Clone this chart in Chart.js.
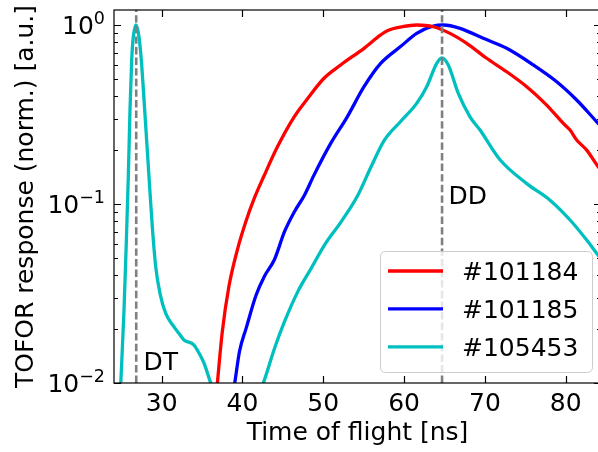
<!DOCTYPE html>
<html>
<head>
<meta charset="utf-8">
<title>TOFOR response</title>
<script src="https://cdn.jsdelivr.net/npm/chart.js@4/dist/chart.umd.min.js"></script>
<style>
  html, body { margin: 0; padding: 0; overflow: hidden; background: #fff; }
  canvas { display: block; }
</style>
</head>
<body>
<canvas id="tofor" width="601" height="452"></canvas>
<script>
// ---- data: normalised TOFOR response vs time of flight (ns) ----
const shotLabels = ['#101184', '#101185', '#105453'];
const shotColors = ['#ff0000', '#0000ff', '#00bfbf'];

const times101184 = [36.5, 36.88, 37.5, 38.33, 39.36, 40.4, 41.43, 42.66, 44.31, 46.38, 48.02, 50.09,
  52.15, 55.04, 57.1, 57.93, 59.79, 61.56, 63.62, 65.68, 67.75, 70.22, 72.7, 75.18, 77.65, 79.71,
  80.54, 81.36, 82.6, 84.0, 84.6];
const resp101184 = [0.0063, 0.0098, 0.0193, 0.0348, 0.0553, 0.0793, 0.1067, 0.1433, 0.208, 0.306, 0.386, 0.504,
  0.598, 0.741, 0.88, 0.93, 0.978, 1.0, 0.978, 0.898, 0.79, 0.652, 0.548, 0.452, 0.357, 0.282,
  0.259, 0.228, 0.2, 0.162, 0.15];

const times101185 = [38.6, 39.01, 39.63, 40.45, 41.69, 42.72, 43.96, 45.2, 46.43, 47.67, 48.85, 50.92,
  52.97, 55.04, 57.1, 59.6, 61.56, 63.62, 64.86, 66.92, 69.8, 72.7, 76.0, 78.89, 81.36, 83.84, 84.6];
const resp101185 = [0.0078, 0.0098, 0.015, 0.0202, 0.031, 0.0395, 0.049, 0.07, 0.0906, 0.112, 0.145, 0.218,
  0.307, 0.452, 0.61, 0.76, 0.898, 0.987, 1.0, 0.958, 0.843, 0.741, 0.598, 0.482, 0.381, 0.288, 0.265];

const times105453 = [24.5, 24.93, 25.34, 25.62, 25.87, 26.08, 26.29, 26.45, 26.82, 27.19, 27.48, 27.9,
  28.43, 28.84, 29.26, 29.79, 30.5, 31.53, 32.14, 32.76, 34.0, 34.62, 35.24, 36.07, 36.5, 38.7,
  41.0, 42.51, 43.96, 45.2, 46.85, 48.5, 50.15, 52.22, 54.28, 55.93, 57.58, 59.6, 61.56, 62.8,
  64.04, 64.66, 65.47, 66.71, 68.16, 69.4, 71.9, 75.18, 78.06, 80.54, 82.6, 84.0, 84.6];
const resp105453 = [0.0036, 0.0098, 0.0256, 0.0603, 0.142, 0.335, 0.637, 0.824, 1.0, 0.86, 0.637, 0.335,
  0.142, 0.0747, 0.0447, 0.0317, 0.0245, 0.0206, 0.0189, 0.0174, 0.0163, 0.0147, 0.0129, 0.0100, 0.0089, 0.004,
  0.007, 0.0098, 0.0156, 0.022, 0.0324, 0.0437, 0.059, 0.0797, 0.112, 0.162, 0.228, 0.29, 0.365, 0.452,
  0.61, 0.656, 0.598, 0.415, 0.307, 0.259, 0.176, 0.13, 0.105, 0.0814, 0.0629, 0.0519, 0.048];

// expected DT and DD neutron times of flight
const peakNames = ['DT', 'DD'];
const peakTimes = [26.85, 64.7];
const peakLabelAt = [[27.75, 0.0118], [65.5, 0.1]];

// axis ticks
const xTicks = [30, 40, 50, 60, 70, 80];
const yTicks = [0.01, 0.1, 1];

const FONT = '"DejaVu Sans", sans-serif';
const toPoints = (t, v) => t.map((ti, i) => ({ x: ti, y: v[i] }));
const seriesTimes = [times101184, times101185, times105453];
const seriesResp = [resp101184, resp101185, resp105453];

const datasets = shotLabels.map((lab, i) => ({
  label: lab,
  data: toPoints(seriesTimes[i], seriesResp[i]),
  borderColor: shotColors[i],
  backgroundColor: shotColors[i],
  borderWidth: 3.3,
  pointRadius: 0,
  cubicInterpolationMode: 'monotone',
  fill: false,
  clip: 0,
  borderJoinStyle: 'round',
  borderCapStyle: 'butt'
}));

function supLabel(v) {
  const e = Math.round(Math.log10(v));
  return e < 0 ? '\u2212' + Math.abs(e) : String(e);
}

const tofPlugin = {
  id: 'tofDecor',
  afterDatasetsDraw(chart) {
    const { ctx, chartArea: a, scales: { x, y } } = chart;
    // dashed markers for the DT / DD peak positions
    ctx.save();
    ctx.beginPath();
    ctx.rect(a.left, a.top, a.right - a.left, a.bottom - a.top);
    ctx.clip();
    ctx.strokeStyle = '#808080';
    ctx.lineWidth = 2.6;
    ctx.setLineDash([7.4, 3.2]);
    peakTimes.forEach(t => {
      const px = x.getPixelForValue(t);
      ctx.beginPath();
      ctx.moveTo(px, a.bottom);
      ctx.lineTo(px, a.top);
      ctx.stroke();
    });
    ctx.restore();

    ctx.save();
    ctx.fillStyle = '#000';
    ctx.font = '25px ' + FONT;
    ctx.textAlign = 'left';
    ctx.textBaseline = 'alphabetic';
    peakNames.forEach((n, i) => {
      ctx.fillText(n, x.getPixelForValue(peakLabelAt[i][0]), y.getPixelForValue(peakLabelAt[i][1]));
    });
    ctx.restore();
  },
  afterDraw(chart) {
    const { ctx, chartArea: a, scales: { x, y } } = chart;
    ctx.save();
    // frame
    ctx.strokeStyle = '#000';
    ctx.lineWidth = 1.2;
    ctx.strokeRect(a.left, a.top, a.right - a.left, a.bottom - a.top);

    // inward ticks
    const majorLen = 7, minorLen = 4;
    ctx.lineWidth = 1.2;
    ctx.beginPath();
    x.ticks.forEach(t => {
      const px = Math.round(x.getPixelForValue(t.value)) + 0.5;
      ctx.moveTo(px, a.bottom); ctx.lineTo(px, a.bottom - majorLen);
      ctx.moveTo(px, a.top); ctx.lineTo(px, a.top + majorLen);
    });
    const lo = Math.floor(Math.log10(y.min)), hi = Math.ceil(Math.log10(y.max));
    for (let e = lo; e <= hi; e++) {
      for (let m = 1; m <= 9; m++) {
        const v = m * Math.pow(10, e);
        if (v < y.min * 0.999 || v > y.max) continue;
        const py = Math.round(y.getPixelForValue(v)) + 0.5;
        const len = m === 1 ? majorLen : minorLen;
        ctx.moveTo(a.left, py); ctx.lineTo(a.left + len, py);
        ctx.moveTo(a.right, py); ctx.lineTo(a.right - len, py);
      }
    }
    ctx.stroke();

    // tick labels
    ctx.fillStyle = '#000';
    ctx.font = '25px ' + FONT;
    ctx.textAlign = 'center';
    ctx.textBaseline = 'alphabetic';
    x.ticks.forEach(t => {
      ctx.fillText(String(t.value), x.getPixelForValue(t.value), a.bottom + 28);
    });
    const rightEdge = a.left - 9;
    ctx.textAlign = 'left';
    y.ticks.forEach(t => {
      const py = y.getPixelForValue(t.value);
      const sup = supLabel(t.value);
      ctx.font = '17.5px ' + FONT;
      const supW = ctx.measureText(sup).width;
      ctx.font = '25px ' + FONT;
      const baseW = ctx.measureText('10').width;
      ctx.fillText('10', rightEdge - supW - baseW, py + 9.3);
      ctx.font = '17.5px ' + FONT;
      ctx.fillText(sup, rightEdge - supW, py + 9.3 - 10);
    });

    // axis titles
    ctx.font = '25px ' + FONT;
    ctx.textAlign = 'center';
    ctx.fillText('Time of flight [ns]', (a.left + a.right) / 2, 440);
    ctx.save();
    ctx.translate(33, (a.top + a.bottom) / 2);
    ctx.rotate(-Math.PI / 2);
    ctx.fillText('TOFOR response (norm.) [a.u.]', 0, 0);
    ctx.restore();

    // legend
    const box = { l: 380, t: 251, r: 592, b: 372, rad: 5 };
    ctx.beginPath();
    ctx.roundRect(box.l + 0.5, box.t + 0.5, box.r - box.l, box.b - box.t, box.rad);
    ctx.fillStyle = 'rgba(255,255,255,0.8)';
    ctx.fill();
    ctx.strokeStyle = '#cccccc';
    ctx.lineWidth = 1;
    ctx.stroke();
    ctx.textAlign = 'left';
    chart.data.datasets.forEach((ds, i) => {
      const ly = 271 + i * 37.9;
      ctx.strokeStyle = ds.borderColor;
      ctx.lineWidth = 3.3;
      ctx.beginPath();
      ctx.moveTo(388, ly); ctx.lineTo(443, ly);
      ctx.stroke();
      ctx.fillStyle = '#000';
      ctx.font = '25px ' + FONT;
      ctx.fillText(ds.label, 462, ly + 9);
    });
    ctx.restore();
  }
};

new Chart(document.getElementById('tofor'), {
  type: 'line',
  data: { datasets },
  options: {
    responsive: false,
    animation: false,
    devicePixelRatio: 1,
    layout: { padding: { top: 10, left: 0, right: 0, bottom: 0 } },
    plugins: { legend: { display: false }, tooltip: { enabled: false }, title: { display: false } },
    scales: {
      x: {
        type: 'linear',
        min: 24.1,
        max: 84.37,
        grid: { display: false },
        border: { display: false },
        ticks: { display: false },
        afterBuildTicks: s => { s.ticks = xTicks.map(v => ({ value: v })); },
        afterFit: s => { s.height = 69; }
      },
      y: {
        type: 'logarithmic',
        min: 0.01,
        max: 1.213,
        grid: { display: false },
        border: { display: false },
        ticks: { display: false },
        afterBuildTicks: s => { s.ticks = yTicks.map(v => ({ value: v })); },
        afterFit: s => { s.width = 114; }
      }
    }
  },
  plugins: [tofPlugin]
});
</script>
</body>
</html>
